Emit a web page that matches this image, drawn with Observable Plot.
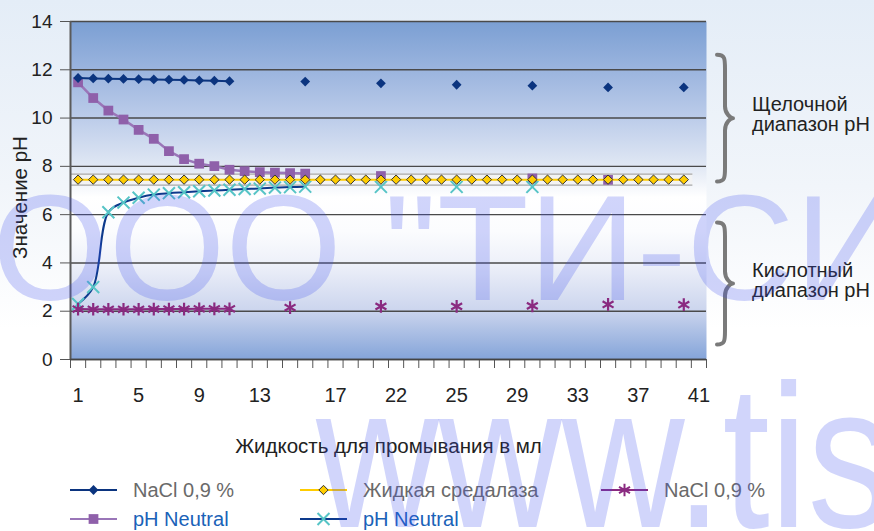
<!DOCTYPE html>
<html>
<head>
<meta charset="utf-8">
<script src="https://cdn.jsdelivr.net/npm/d3@7"></script>
<script src="https://cdn.jsdelivr.net/npm/@observablehq/plot@0.6"></script>
<style>
  html, body { margin: 0; padding: 0; }
  body {
    width: 874px; height: 531px; overflow: hidden; position: relative;
    background: linear-gradient(#e4edf7 0%, #f1f5fa 35%, #ffffff 62%);
    font-family: "Liberation Sans", Arial, sans-serif;
  }
  #chart { position: absolute; left: 0; top: 0; }
  .leg-label { position: absolute; font-size: 20px; line-height: 22px; white-space: nowrap; }
  #wm { position: absolute; left: 0; top: 0; pointer-events: none; }
</style>
</head>
<body>
<div id="chart"></div>
<div id="legend"></div>
<script>
// ---------------- DATA ----------------
const categories = d3.range(42);            // category slots along the x axis
const tickIndex  = [0, 4, 8, 12, 17, 21, 25, 29, 33, 37, 41];
const tickLabels = ["1", "5", "9", "13", "17", "22", "25", "29", "33", "37", "41"];
const yTicks     = [0, 2, 4, 6, 8, 10, 12, 14];

const seriesNames = ["NaCl 0,9 %", "Жидкая средалаза", "NaCl 0,9 %", "pH Neutral", "pH Neutral"];

// NaCl 0,9 % (alkaline range, dark blue diamonds)
const naclAlkaline = [11.66, 11.64, 11.63, 11.62, 11.61, 11.60, 11.59, 11.58, 11.56, 11.55, 11.53,
  null, null, null, null, 11.51, null, null, null, null, 11.44, null, null, null, null, 11.38,
  null, null, null, null, 11.34, null, null, null, null, 11.27, null, null, null, null, 11.27];

// Жидкая средалаза (yellow diamonds)
const sredalaza = [7.45, 7.45, 7.45, 7.45, 7.45, 7.45, 7.45, 7.45, 7.45, 7.45, 7.45, 7.45, 7.45, 7.45,
  7.45, 7.45, 7.45, 7.45, 7.45, 7.45, 7.45, 7.45, 7.45, 7.45, 7.45, 7.45, 7.45, 7.45, 7.45, 7.45,
  7.45, 7.45, 7.45, 7.45, 7.45, 7.45, 7.45, 7.45, 7.45, 7.45, 7.45];

// NaCl 0,9 % (acid range, magenta asterisks)
const naclAcid = [2.09, 2.08, 2.08, 2.08, 2.08, 2.09, 2.09, 2.09, 2.10, 2.10, 2.10,
  null, null, null, 2.15, null, null, null, null, null, 2.20, null, null, null, null, 2.20,
  null, null, null, null, 2.22, null, null, null, null, 2.28, null, null, null, null, 2.27];

// pH Neutral (purple squares, from alkaline)
const phNeutralAlk = [11.48, 10.83, 10.31, 9.94, 9.51, 9.14, 8.63, 8.30, 8.11, 8.01, 7.86, 7.80,
  7.76, 7.74, 7.72, 7.70, null, null, null, null, 7.60, null, null, null, null, null, null, null,
  null, null, 7.50, null, null, null, null, 7.44, null, null, null, null, null];

// pH Neutral (cyan crosses, from acid)
const phNeutralAcid = [2.30, 3.00, 6.10, 6.50, 6.70, 6.83, 6.89, 6.93, 6.97, 7.00, 7.03, 7.06,
  7.08, 7.12, 7.14, 7.16, null, null, null, null, 7.15, null, null, null, null, 7.15, null, null,
  null, null, 7.15, null, null, null, null, null, null, null, null, null, null];

// Bracketed pH ranges on the right
const ranges = [
  {lines: ["Щелочной", "диапазон pH"], from: 12.6, to: 7.35},
  {lines: ["Кислотный", "диапазон pH"], from: 5.65, to: 0.6}
];

const xTitle = "Жидкость для промывания в мл";
const yTitle = "Значение pH";

// ---------------- STYLE ----------------
const C = {
  navy: "#0b347f",
  yellow: "#ffcc00",
  magenta: "#8a2a80",
  purple: "#8f60aa",
  purpleLine: "#9a76b8",
  cyan: "#56c4c6",
  cyanLine: "#0d3a8c"
};

const rows = vals => vals.map((v, k) => ({i: categories[k], v: v == null ? NaN : v}));
const dA = rows(naclAlkaline), dY = rows(sredalaza), dM = rows(naclAcid),
      dP = rows(phNeutralAlk), dC = rows(phNeutralAcid);

const nCat = categories.length;
const boundaries = d3.range(nCat + 1).map(k => categories[0] - 0.5 + k);
const bandMid = d3.mean(sredalaza);
const bandX1 = categories[0] - 0.5, bandX2 = sredalaza.length - 1 + 0.6;

const plot = Plot.plot({
  width: 874, height: 466,
  marginLeft: 70, marginRight: 168, marginTop: 21, marginBottom: 107,
  style: {background: "transparent", fontFamily: "Liberation Sans, Arial, sans-serif", color: "#222", overflow: "visible"},
  x: {type: "linear", domain: [categories[0] - 0.5, categories[nCat - 1] + 0.5], label: null},
  y: {domain: [0, 14], label: null},
  marks: [
    Plot.frame({fill: "url(#bgGrad)", stroke: "none"}),
    Plot.gridY(yTicks, {stroke: "#4a4a4a", strokeOpacity: 1, strokeWidth: 1.4}),
    // shaded band around the yellow series
    Plot.rect([bandMid], {x1: bandX1, x2: bandX2,
      y1: d => d - 0.23, y2: d => d + 0.23, fill: "#f3f3f3", fillOpacity: 0.9}),
    Plot.ruleY([bandMid - 0.23, bandMid + 0.23], {x1: bandX1, x2: bandX2,
      stroke: "#a8a8a8", strokeWidth: 1.2}),
    // pH Neutral (purple)
    Plot.line(dP, {x: "i", y: "v", stroke: C.purpleLine, strokeWidth: 2.5}),
    Plot.dot(dP, {x: "i", y: "v", symbol: "square", r: 5.5, fill: C.purple, stroke: "none"}),
    // pH Neutral (cyan crosses, navy smoothed line)
    Plot.line(dC, {x: "i", y: "v", stroke: C.cyanLine, strokeWidth: 2, curve: "catmull-rom"}),
    Plot.dot(dC, {x: "i", y: "v", symbol: "times", r: 5.5, stroke: C.cyan, strokeWidth: 2, fill: "none"}),
    // NaCl alkaline
    Plot.line(dA, {x: "i", y: "v", stroke: C.navy, strokeWidth: 2}),
    Plot.dot(dA, {x: "i", y: "v", symbol: "diamond2", r: 4.4, fill: C.navy, stroke: "none"}),
    // NaCl acid
    Plot.line(dM, {x: "i", y: "v", stroke: C.magenta, strokeWidth: 2}),
    Plot.dot(dM, {x: "i", y: "v", symbol: "asterisk", r: 6, stroke: C.magenta, strokeWidth: 2.2}),
    // Жидкая средалаза
    Plot.line(dY, {x: "i", y: "v", stroke: C.yellow, strokeWidth: 2}),
    Plot.dot(dY, {x: "i", y: "v", symbol: "diamond2", r: 4.2, fill: C.yellow, stroke: "#333", strokeWidth: 1}),
    // axes
    Plot.axisY(yTicks, {tickSize: 10, tickPadding: 8, fontSize: 19, stroke: "#555", label: null}),
    Plot.axisX(boundaries, {tickSize: 9, tickFormat: () => "", stroke: "#555", label: null}),
    Plot.axisX(tickIndex, {tickSize: 0, tickPadding: 28, fontSize: 20, label: null,
      tickFormat: d => tickLabels[tickIndex.indexOf(d)]}),
    Plot.ruleX([categories[0] - 0.5], {stroke: "#5a5a5a", strokeWidth: 2}),
    Plot.ruleY([0], {stroke: "#444", strokeWidth: 1.6}),
    Plot.text([xTitle], {text: d => d, frameAnchor: "bottom", dy: 93, fontSize: 20.5, fill: "#222"}),
    Plot.text([yTitle], {text: d => d, frameAnchor: "left", textAnchor: "middle", dx: -50, dy: 7,
      rotate: -90, fontSize: 20.5, fill: "#222"})
  ]
});

document.getElementById("chart").appendChild(plot);

// gradient definition for the plot background
const svg = d3.select(plot);
const defs = svg.insert("defs", ":first-child");
const grad = defs.append("linearGradient").attr("id", "bgGrad")
  .attr("x1", 0).attr("y1", 0).attr("x2", 0).attr("y2", 1);
[[0, "#7b9fd3"], [0.14, "#9ab4de"], [0.29, "#bdcdea"], [0.43, "#e1e8f4"], [0.52, "#ffffff"],
 [0.62, "#fbfcfe"], [0.72, "#edf0f9"], [0.85, "#cdd6ee"], [1, "#84a4d9"]]
  .forEach(([o, c]) => grad.append("stop").attr("offset", o).attr("stop-color", c));

// braces + range labels
const ys = plot.scale("y");
const xs = plot.scale("x");
const right = xs.apply(categories[nCat - 1] + 0.5);
function bracePath(x, y1, y2, w) {
  const ym = (y1 + y2) / 2, q = x + w * 0.5, e = x + w;
  return `M${x},${y1} C${q},${y1} ${q},${y1 + 4} ${q},${y1 + 14} L${q},${ym - 12}` +
         ` C${q},${ym - 4} ${e - 2},${ym} ${e},${ym} C${e - 2},${ym} ${q},${ym + 4} ${q},${ym + 12}` +
         ` L${q},${y2 - 14} C${q},${y2 - 4} ${q},${y2} ${x},${y2}`;
}
ranges.forEach(r => {
  const y1 = ys.apply(r.from), y2 = ys.apply(r.to), ym = (y1 + y2) / 2;
  svg.append("path").attr("d", bracePath(right + 11, y1, y2, 16))
    .attr("fill", "none").attr("stroke", "#7a7a7a").attr("stroke-width", 4)
    .attr("stroke-linecap", "round").attr("stroke-linejoin", "round");
  const t = svg.append("text").attr("font-size", 20).attr("fill", "#222")
    .attr("text-anchor", "start")
    .attr("font-family", "Liberation Sans, Arial, sans-serif");
  r.lines.forEach((ln, k) => {
    t.append("tspan").attr("x", right + 46).attr("y", ym - 4 + (k - (r.lines.length - 1) / 2) * 20)
      .attr("dy", "0.35em").text(ln);
  });
});

// ---------------- LEGEND ----------------
const legendSpec = [
  {name: seriesNames[0], line: C.navy, sym: d3.symbolDiamond2, r: 4.4, fill: C.navy, stroke: "none", col: 0, row: 0, color: "#6a6a6a"},
  {name: seriesNames[1], line: C.yellow, sym: d3.symbolDiamond2, r: 4.2, fill: C.yellow, stroke: "#333", col: 1, row: 0, color: "#6a6a6a"},
  {name: seriesNames[2], line: C.magenta, sym: d3.symbolAsterisk, r: 6, fill: "none", stroke: C.magenta, col: 2, row: 0, color: "#6a6a6a"},
  {name: seriesNames[3], line: C.purpleLine, sym: d3.symbolSquare, r: 5.5, fill: C.purple, stroke: "none", col: 0, row: 1, color: "#1a62b8"},
  {name: seriesNames[4], line: C.cyanLine, sym: d3.symbolTimes, r: 5.5, fill: "none", stroke: C.cyan, col: 1, row: 1, color: "#1a62b8"}
];
const colX = [70, 300, 601];
const rowY = [490, 519];
const legend = d3.select("#legend");
legendSpec.forEach(s => {
  const sx = colX[s.col], sy = rowY[s.row];
  const sw = legend.append("svg").attr("width", 48).attr("height", 16)
    .style("position", "absolute").style("left", sx + "px").style("top", (sy - 8) + "px")
    .style("overflow", "visible");
  sw.append("line").attr("x1", 0).attr("x2", 47).attr("y1", 8).attr("y2", 8)
    .attr("stroke", s.line).attr("stroke-width", 2);
  sw.append("path").attr("transform", "translate(23.5,8)")
    .attr("d", d3.symbol(s.sym, Math.PI * s.r * s.r)())
    .attr("fill", s.fill).attr("stroke", s.stroke).attr("stroke-width", s.stroke === "#333" ? 1 : 2);
  legend.append("div").attr("class", "leg-label")
    .style("left", (sx + 63) + "px").style("top", (sy - 11) + "px")
    .style("color", s.color).text(s.name);
});
</script>
<svg id="wm" width="874" height="531">
  <text x="-8" y="300" font-family="Liberation Sans, Arial, sans-serif" font-size="150" fill="rgba(64,80,240,0.24)">ООО "ТИ-СИ</text>
  <text transform="translate(316,527) scale(0.83,1)" x="0" y="0" font-family="Liberation Sans, Arial, sans-serif" font-size="205" fill="rgba(64,80,240,0.24)">www.tisys.ru</text>
</svg>
</body>
</html>
